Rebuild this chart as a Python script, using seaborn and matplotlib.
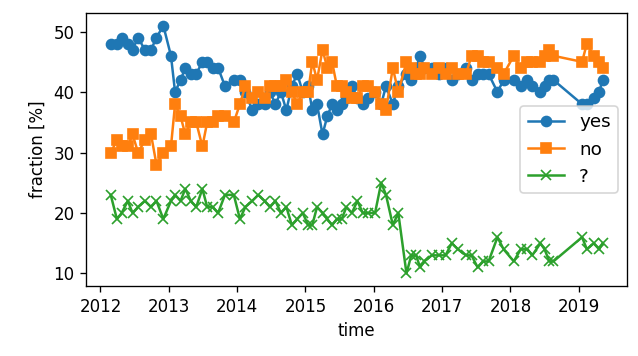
import matplotlib

matplotlib.use("Agg")
import matplotlib.dates as mdates
import matplotlib.pyplot as plt
import numpy as np
import pandas as pd
import seaborn as sns

# poll dates as decimal years
years = [
    2012.15, 2012.24, 2012.31, 2012.40, 2012.47, 2012.55, 2012.65, 2012.74, 2012.82, 2012.92,
    2013.03, 2013.09, 2013.17, 2013.24, 2013.32, 2013.40, 2013.49, 2013.56, 2013.64, 2013.72,
    2013.82, 2013.95, 2014.04, 2014.12, 2014.22, 2014.31, 2014.40, 2014.48, 2014.56, 2014.64,
    2014.72, 2014.80, 2014.88, 2014.96, 2015.04, 2015.10, 2015.17, 2015.25, 2015.32, 2015.39,
    2015.46, 2015.53, 2015.60, 2015.68, 2015.76, 2015.84, 2015.92, 2016.02, 2016.11, 2016.18,
    2016.28, 2016.36, 2016.48, 2016.55, 2016.62, 2016.68, 2016.74, 2016.85, 2016.95, 2017.05,
    2017.14, 2017.23, 2017.35, 2017.43, 2017.52, 2017.60, 2017.68, 2017.81, 2017.90, 2018.05,
    2018.15, 2018.25, 2018.32, 2018.44, 2018.50, 2018.57, 2018.63, 2019.05, 2019.12, 2019.22,
    2019.30, 2019.35,
]
yes = [
    48, 48, 49, 48, 47, 49, 47, 47, 49, 51,
    46, 40, 42, 44, 43, 43, 45, 45, 44, 44,
    41, 42, 42, 40, 37, 38, 38, 40, 38, 40,
    37, 41, 43, 40, 41, 37, 38, 33, 36, 38,
    37, 38, 39, 41, 39, 38, 39, 40, 38, 41,
    38, 41, 43, 42, 44, 46, 44, 44, 43, 44,
    42, 43, 44, 42, 43, 43, 43, 40, 42, 42,
    41, 42, 41, 40, 41, 42, 42, 38, 38, 39,
    40, 42,
]
no = [
    30, 32, 31, 31, 33, 30, 32, 33, 28, 30,
    31, 38, 36, 33, 35, 35, 31, 35, 35, 36,
    36, 35, 38, 41, 39, 40, 39, 41, 41, 41,
    42, 40, 38, 40, 40, 45, 42, 47, 44, 45,
    41, 41, 40, 39, 39, 41, 41, 40, 38, 37,
    44, 40, 45, 44, 43, 43, 44, 43, 44, 43,
    44, 43, 43, 46, 46, 45, 45, 44, 43, 46,
    44, 45, 45, 45, 46, 47, 46, 45, 48, 46,
    45, 44,
]
unknown = [
    23, 19, 20, 22, 20, 21, 22, 21, 22, 19,
    22, 23, 22, 24, 22, 21, 24, 21, 21, 20,
    23, 23, 19, 21, 22, 23, 22, 21, 22, 20,
    21, 18, 19, 20, 18, 18, 21, 20, 19, 18,
    19, 19, 21, 20, 22, 20, 20, 20, 25, 23,
    18, 20, 10, 13, 13, 11, 12, 13, 13, 13,
    15, 14, 13, 13, 11, 12, 12, 16, 14, 12,
    14, 14, 13, 15, 14, 12, 12, 16, 14, 15,
    14, 15,
]

series = [("yes", yes, "o", "#1f77b4"), ("no", no, "s", "#ff7f0e"), ("?", unknown, "x", "#2ca02c")]


def to_dates(values):
    y = np.floor(values).astype(int)
    start = pd.to_datetime([f"{v}-01-01" for v in y])
    return start + pd.to_timedelta((np.asarray(values) - y) * 365.25, unit="D")


dates = to_dates(years)

fig = plt.figure(figsize=(638 / 120, 356 / 120), dpi=120)
ax = fig.add_axes([0.135, 0.197, 0.848, 0.766])
for name, values, marker, color in series:
    sns.lineplot(
        x=dates, y=values, ax=ax, label=name, color=color, marker=marker,
        markersize=6, markeredgecolor=color, markeredgewidth=1.0, linewidth=1.5,
    )

ax.xaxis.set_major_locator(mdates.YearLocator())
ax.xaxis.set_major_formatter(mdates.DateFormatter("%Y"))
ax.set_xlabel("time")
ax.set_ylabel("fraction [%]")
ax.set_yticks([10, 20, 30, 40, 50])
ax.legend(loc="center right", fontsize=11)
fig.savefig("out.png", dpi=120)
